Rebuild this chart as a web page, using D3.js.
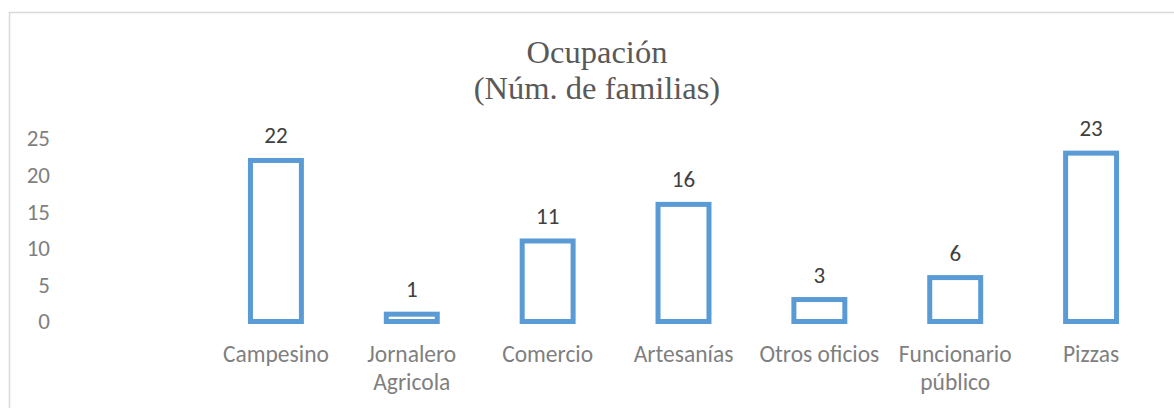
<!DOCTYPE html>
<html>
<head>
<meta charset="utf-8">
<script src="https://cdn.jsdelivr.net/npm/d3@7"></script>
<style>
  body { margin: 0; background: #fff; }
  svg { display: block; }
</style>
</head>
<body>
<div id="chart"></div>
<script>
// datos del gráfico
const categories = ["Campesino", "Jornalero\nAgricola", "Comercio", "Artesanías", "Otros oficios", "Funcionario\npúblico", "Pizzas"];
const values = [22, 1, 11, 16, 3, 6, 23];
const yTicks = [0, 5, 10, 15, 20, 25];
const titleLines = ["Ocupación", "(Núm. de familias)"];

const width = 1174, height = 408;
const sansFont = "Carlito, Calibri, Lato, sans-serif";

const svg = d3.select("#chart")
  .append("svg")
  .attr("width", width)
  .attr("height", height);

// borde del área del gráfico
svg.append("rect")
  .attr("x", 9.5)
  .attr("y", 12.5)
  .attr("width", 1200)
  .attr("height", 450)
  .attr("fill", "none")
  .attr("stroke", "#d9d9d9")
  .attr("stroke-width", 1.5);

// escalas
const x = d3.scaleBand()
  .domain(categories)
  .range([208, 1159])
  .paddingInner(0.625)
  .paddingOuter(0.3125);

const y = d3.scaleLinear()
  .domain([0, 25])
  .range([321.5, 138.5]);

// título
svg.append("text")
  .attr("text-anchor", "middle")
  .style("font-family", "'Liberation Serif', 'Times New Roman', serif")
  .style("font-size", "32.5px")
  .style("fill", "#595959")
  .selectAll("tspan")
  .data(titleLines)
  .join("tspan")
  .attr("x", 597)
  .attr("y", (d, i) => 63 + i * 36)
  .text(d => d);

// eje Y (solo etiquetas)
const yAxis = svg.append("g")
  .attr("transform", "translate(56,0)")
  .call(d3.axisLeft(y).tickValues(yTicks).tickSize(0).tickPadding(6));
yAxis.select(".domain").remove();
yAxis.selectAll("text")
  .style("font-family", sansFont)
  .style("font-size", "23px")
  .style("fill", "#7f7f7f");

// barras (solo contorno)
svg.append("g")
  .selectAll("rect")
  .data(values)
  .join("rect")
  .attr("x", (d, i) => x(categories[i]))
  .attr("y", d => y(d))
  .attr("width", x.bandwidth())
  .attr("height", d => y(0) - y(d))
  .attr("fill", "none")
  .attr("stroke", "#5b9bd5")
  .attr("stroke-width", 5);

// etiquetas de datos
svg.append("g")
  .selectAll("text")
  .data(values)
  .join("text")
  .attr("x", (d, i) => x(categories[i]) + x.bandwidth() / 2)
  .attr("y", d => y(d) - 17)
  .attr("text-anchor", "middle")
  .style("font-family", sansFont)
  .style("font-size", "23px")
  .style("fill", "#404040")
  .text(d => d);

// etiquetas de categorías
const catLabels = svg.append("g")
  .selectAll("text")
  .data(categories)
  .join("text")
  .attr("text-anchor", "middle")
  .style("font-family", sansFont)
  .style("font-size", "23.5px")
  .style("fill", "#7f7f7f");

catLabels.selectAll("tspan")
  .data(d => d.split("\n").map(t => ({ t, c: d })))
  .join("tspan")
  .attr("x", d => x(d.c) + x.bandwidth() / 2)
  .attr("y", (d, i) => 362 + i * 28)
  .text(d => d.t);
</script>
</body>
</html>
